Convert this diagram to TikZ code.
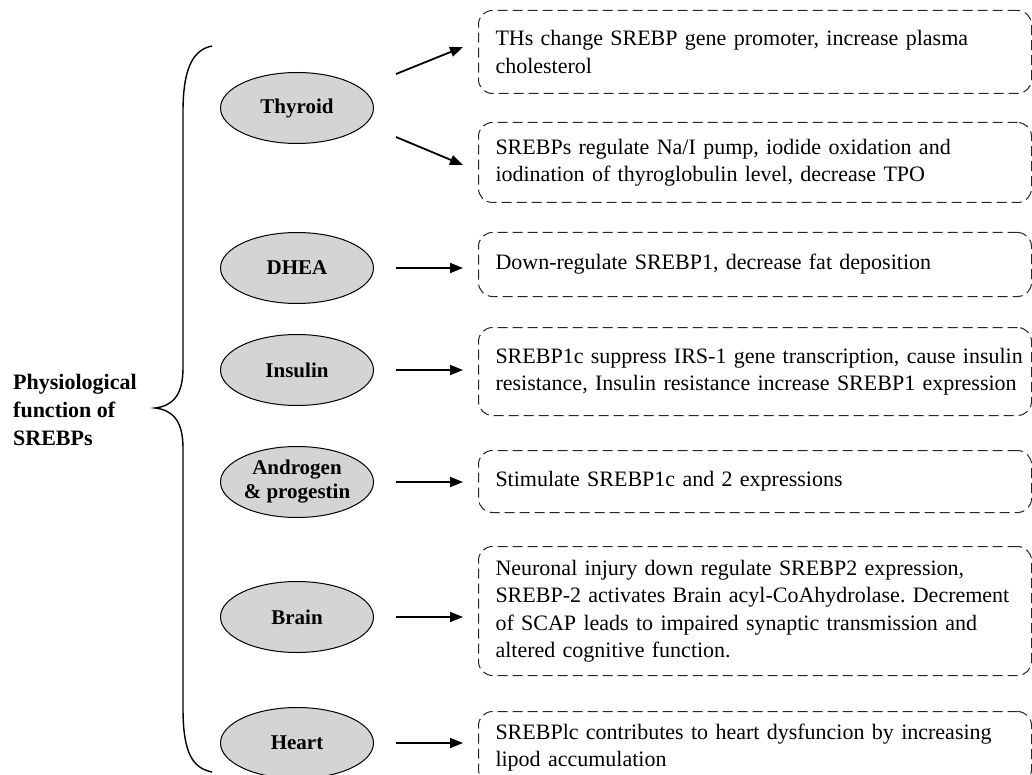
\documentclass[tikz,border=0pt]{standalone}
\usepackage{fontspec}
\setmainfont{Liberation Serif}
\usetikzlibrary{arrows.meta,shapes.geometric}
\frenchspacing
\begin{document}
\begin{tikzpicture}[x=1pt,y=-1pt,
  organ/.style={ellipse, draw=black, line width=1pt, fill=black!17, minimum width=153pt, minimum height=71pt, inner sep=0pt, font=\fontsize{21}{24}\selectfont\bfseries, align=center},
  fbox/.style={draw=black!85, line width=1pt, dash pattern=on 10pt off 5pt, rounded corners=14pt, anchor=north west, text width=519pt, inner xsep=17pt, inner ysep=0pt, align=left, font=\fontsize{22}{27.5}\selectfont},
  arr/.style={line width=1.8pt, -{Triangle[length=13pt,width=10pt]}},
  brace/.style={line width=1.4pt}
]
\clip (0,0) rectangle (1032,775);
\fill[white] (0,0) rectangle (1032,775);

% title
\node[anchor=west, align=left, inner sep=0pt, font=\fontsize{22}{28}\selectfont\bfseries] (title) at (13,410) {Physiological\\function of\\SREBPs};

% brace
\draw[brace] (212,46) .. controls (192,50) and (183,70) .. (183,112) -- (183,368)
  .. controls (183,396) and (172,406) .. (155,408)
  .. controls (172,410) and (183,420) .. (183,448) -- (183,708)
  .. controls (183,752) and (192,768) .. (212,772);

% organs
\node[organ] (thy) at (297,108) {Thyroid};
\node[organ] (dhea) at (297,268) {DHEA};
\node[organ] (ins) at (297,370) {Insulin};
\node[organ] (andr) at (297,482) {Androgen\\\& progestin};
\node[organ] (brain) at (297,617) {Brain};
\node[organ] (heart) at (297,743) {Heart};

% boxes
\node[fbox, minimum height=83pt] (b1) at (478,10) {\mbox{THs change SREBP gene promoter, increase plasma}\\cholesterol};
\node[fbox, minimum height=80pt] (b2) at (478,122) {\mbox{SREBPs regulate Na/I pump, iodide oxidation and}\\\mbox{iodination of thyroglobulin level, decrease TPO}};
\node[fbox, minimum height=64pt] (b3) at (478,232) {\mbox{Down-regulate SREBP1, decrease fat deposition}};
\node[fbox, minimum height=88pt] (b4) at (478,327) {\mbox{SREBP1c suppress IRS-1 gene transcription, cause insulin}\\\mbox{resistance, Insulin resistance increase SREBP1 expression}};
\node[fbox, minimum height=62pt] (b5) at (478,450) {\mbox{Stimulate SREBP1c and 2 expressions}};
\node[fbox, minimum height=129pt] (b6) at (478,546) {\mbox{Neuronal injury down regulate SREBP2 expression,}\\\mbox{SREBP-2 activates Brain acyl-CoAhydrolase. Decrement}\\\mbox{of SCAP leads to impaired synaptic transmission and}\\\mbox{altered cognitive function.}};
\node[fbox, minimum height=72pt] (b7) at (478,711) {\mbox{SREBPlc contributes to heart dysfuncion by increasing}\\\mbox{lipod accumulation}};

% thyroid arrows
\coordinate (t1s) at (396,74);
\coordinate (t1e) at (463,47);
\coordinate (t2s) at (396,137);
\coordinate (t2e) at (463,165);
\draw[arr] (t1s) -- (t1e);
\draw[arr] (t2s) -- (t2e);

% horizontal arrows
\foreach \o/\b in {dhea/b3, ins/b4, andr/b5, brain/b6, heart/b7}{
  \draw[arr, shorten <=22pt, shorten >=15pt] (\o.east) -- (\o.east -| \b.west);
}
\end{tikzpicture}
\end{document}
